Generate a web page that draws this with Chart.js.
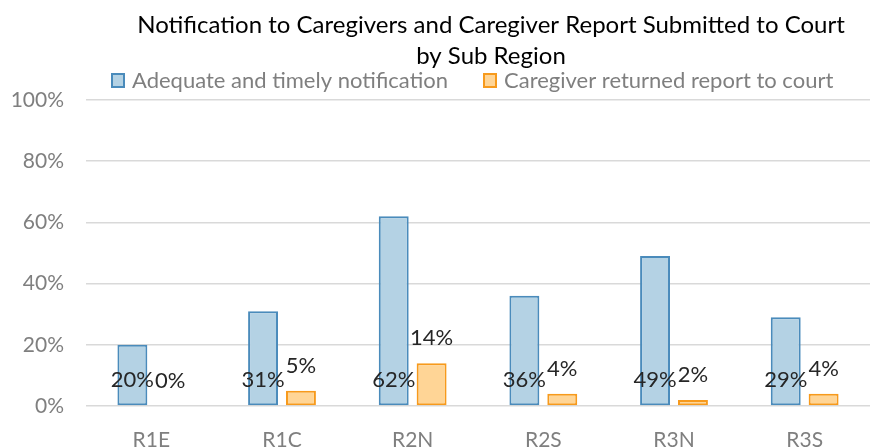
<!DOCTYPE html>
<html>
<head>
<meta charset="utf-8">
<script src="https://cdn.jsdelivr.net/npm/chart.js@4/dist/chart.umd.min.js"></script>
<style>
  html, body { margin: 0; padding: 0; background: #fff; }
  #wrap { width: 870px; height: 447px; position: relative; }
</style>
</head>
<body>
<div id="wrap"><canvas id="myChart"></canvas></div>
<script>
const regions = ['R1E', 'R1C', 'R2N', 'R2S', 'R3N', 'R3S'];
const notification = [20, 31, 62, 36, 49, 29];
const courtReport = [0, 5, 14, 4, 2, 4];
const seriesNames = ['Adequate and timely notification', 'Caregiver returned report to court'];
const titleLines = ['Notification to Caregivers and Caregiver Report Submitted to Court', 'by Sub Region'];

const FONT = 'Lato, Carlito, Calibri, sans-serif';
const blueFill = '#b4d2e4', blueLine = '#4a8bbb';
const orangeFill = '#ffd596', orangeLine = '#f79a1c';

// title, legend and value labels drawn straight onto the canvas
const decorations = {
  id: 'decorations',
  afterDatasetsDraw(chart) {
    const c = chart.ctx;
    c.save();
    c.fillStyle = '#000';
    c.font = '24px ' + FONT;
    c.textAlign = 'center';
    c.textBaseline = 'middle';
    c.fillText(titleLines[0], 491, 25);
    c.fillText(titleLines[1], 491, 56);

    // legend
    c.font = '22px ' + FONT;
    c.textAlign = 'left';
    const items = [
      { x: 112, fill: blueFill, line: blueLine },
      { x: 484, fill: orangeFill, line: orangeLine }
    ];
    items.forEach((it, i) => {
      c.fillStyle = it.fill;
      c.strokeStyle = it.line;
      c.lineWidth = 2;
      c.fillRect(it.x, 74, 12, 13);
      c.strokeRect(it.x, 74, 12, 13);
      c.fillStyle = '#7f7f7f';
      c.fillText(seriesNames[i], it.x + 20, 81);
    });

    // value labels
    c.fillStyle = '#262626';
    c.font = '22px ' + FONT;
    c.textAlign = 'center';
    chart.data.datasets.forEach((ds, di) => {
      chart.getDatasetMeta(di).data.forEach((bar, i) => {
        const y = di === 0 ? bar.base - 25 : bar.y - 25;
        c.fillText(ds.data[i] + '%', bar.x, y);
      });
    });
    c.restore();
  }
};

var ctx = document.getElementById('myChart').getContext('2d');
// eslint-disable-next-line no-unused-vars
var chart = new Chart(ctx, {
  type: 'bar',
  data: {
    labels: regions,
    datasets: [{
      label: seriesNames[0],
      data: notification,
      backgroundColor: blueFill,
      borderColor: blueLine,
      borderWidth: 2,
      borderSkipped: false
    }, {
      label: seriesNames[1],
      data: courtReport,
      backgroundColor: orangeFill,
      borderColor: orangeLine,
      borderWidth: 2,
      borderSkipped: false
    }]
  },
  options: {
    responsive: true,
    maintainAspectRatio: false,
    animation: false,
    categoryPercentage: 0.58,
    barPercentage: 0.79,
    layout: { padding: { top: 100, right: 0, left: 0, bottom: 0 } },
    plugins: {
      legend: { display: false },
      title: { display: false },
      tooltip: { enabled: false }
    },
    scales: {
      x: {
        grid: { display: false },
        border: { display: false },
        ticks: { color: '#7f7f7f', font: { family: FONT, size: 21 }, padding: 14 },
        afterFit(scale) { scale.height = 41; }
      },
      y: {
        min: 0,
        max: 100,
        ticks: {
          stepSize: 20,
          color: '#7f7f7f',
          font: { family: FONT, size: 21 },
          padding: 22,
          callback: v => v + '%'
        },
        grid: { color: '#d9d9d9', lineWidth: 1.5, drawTicks: false },
        border: { display: false },
        afterFit(scale) { scale.width = 86; }
      }
    }
  },
  plugins: [decorations]
});
</script>
</body>
</html>
